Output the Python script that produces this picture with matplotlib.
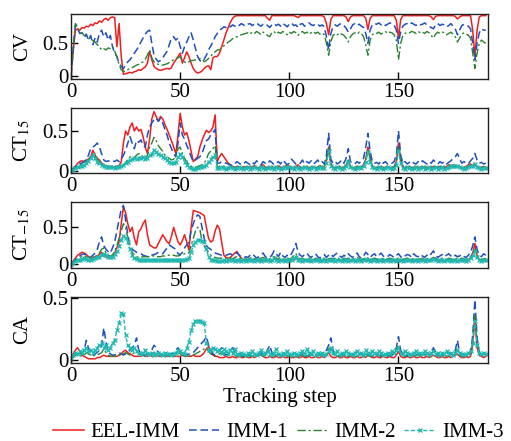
import numpy as np
import matplotlib
matplotlib.use('Agg')
import matplotlib.pyplot as plt

plt.rcParams['font.family'] = ['Liberation Serif', 'DejaVu Serif']
plt.rcParams['mathtext.fontset'] = 'stix'

names = ['EEL-IMM', 'IMM-1', 'IMM-2', 'IMM-3']
panel_labels = ['CV', r'CT$_{15}$', r'CT$_{-15}$', 'CA']
xticks = [0, 50, 100, 150]

# values in percent (0..100)
cv_eel = [0, 40, 70, 72, 70, 74, 73, 76, 75, 79,
          77, 81, 80, 84, 82, 86, 88, 85, 89, 90,
          89, 45, 80, 30, 3, 4, 5, 6, 5, 7,
          8, 10, 9, 12, 14, 20, 38, 25, 15, 12,
          10, 9, 10, 11, 12, 11, 13, 20, 25, 30,
          35, 20, 28, 37, 30, 20, 12, 7, 5, 6,
          8, 12, 15, 16, 10, 28, 30, 30, 35, 45,
          55, 66, 74, 82, 88, 91, 92, 92, 92, 92,
          92, 92, 92, 92, 92, 92, 92, 92, 92, 92,
          88, 85, 92, 92, 92, 92, 92, 92, 92, 92,
          92, 92, 92, 91, 89, 92, 92, 92, 92, 92,
          92, 92, 92, 92, 92, 92, 90, 80, 63, 86,
          92, 92, 92, 92, 92, 92, 90, 83, 90, 92,
          92, 92, 92, 92, 92, 88, 71, 88, 92, 92,
          92, 92, 92, 92, 92, 92, 92, 92, 92, 85,
          58, 86, 92, 92, 92, 92, 92, 92, 92, 92,
          92, 92, 92, 92, 92, 90, 86, 91, 92, 92,
          92, 92, 92, 92, 92, 92, 91, 87, 90, 92,
          92, 92, 92, 92, 70, 30, 70, 90, 92, 92,
          92]
cv_imm1 = [0, 40, 78, 72, 65, 66, 60, 64, 55, 62,
           48, 58, 52, 65, 70, 60, 66, 55, 62, 45,
           35, 30, 20, 15, 12, 17, 22, 25, 30, 35,
           40, 45, 52, 58, 64, 68, 70, 50, 32, 26,
           22, 24, 28, 33, 38, 48, 58, 60, 55, 58,
           45, 35, 45, 52, 60, 66, 55, 42, 30, 24,
           22, 26, 32, 40, 46, 52, 60, 65, 70, 72,
           75, 74, 77, 75, 78, 76, 79, 77, 80, 78,
           76, 79, 80, 77, 79, 81, 78, 76, 79, 80,
           77, 74, 78, 80, 77, 79, 76, 80, 78, 75,
           79, 81, 77, 78, 74, 79, 80, 76, 78, 81,
           78, 77, 80, 79, 76, 78, 75, 60, 40, 65,
           75, 78, 76, 79, 80, 77, 73, 67, 72, 78,
           80, 77, 79, 76, 74, 65, 50, 70, 78, 80,
           79, 81, 78, 80, 77, 79, 81, 80, 78, 70,
           50, 68, 76, 79, 80, 78, 81, 79, 77, 80,
           78, 79, 81, 78, 76, 74, 72, 78, 80, 77,
           79, 78, 75, 77, 80, 76, 72, 63, 70, 77,
           79, 78, 76, 72, 50, 25, 50, 66, 72, 70,
           70]
cv_imm2 = [0, 45, 80, 75, 65, 66, 62, 60, 57, 58,
           54, 52, 48, 45, 40, 42, 40, 43, 42, 45,
           38, 30, 18, 10, 7, 8, 10, 12, 13, 15,
           17, 18, 20, 22, 26, 32, 40, 28, 22, 20,
           18, 17, 17, 18, 19, 21, 23, 25, 26, 28,
           30, 24, 22, 20, 22, 24, 24, 25, 26, 27,
           26, 22, 24, 27, 30, 35, 37, 40, 40, 43,
           46, 49, 52, 54, 57, 59, 60, 62, 63, 64,
           65, 66, 64, 67, 65, 68, 66, 63, 67, 65,
           62, 60, 66, 68, 64, 67, 65, 68, 66, 63,
           67, 65, 68, 66, 62, 66, 68, 65, 67, 64,
           66, 68, 65, 67, 64, 66, 63, 50, 32, 52,
           62, 65, 63, 66, 64, 62, 58, 52, 60, 64,
           66, 64, 67, 65, 60, 48, 32, 55, 63, 66,
           65, 67, 64, 66, 68, 65, 67, 66, 63, 55,
           25, 50, 62, 65, 67, 66, 68, 67, 65, 68,
           66, 67, 65, 68, 66, 62, 58, 64, 67, 65,
           67, 66, 63, 65, 67, 64, 60, 52, 58, 64,
           66, 64, 62, 58, 35, 12, 35, 50, 55, 52,
           50]

ct15_eel = [0, 3, 6, 10, 12, 13, 12, 14, 15, 18,
            26, 20, 16, 14, 10, 8, 6, 6, 5, 6,
            5, 6, 7, 12, 35, 50, 45, 55, 60, 50,
            55, 50, 52, 43, 30, 22, 40, 65, 74, 68,
            62, 68, 65, 58, 52, 45, 38, 30, 22, 45,
            72, 55, 45, 48, 38, 25, 12, 15, 18, 30,
            38, 45, 51, 48, 50, 55, 70, 12, 18, 22,
            18, 14, 10, 8, 6, 5, 6, 5, 4, 6,
            5, 4, 6, 5, 7, 5, 4, 6, 8, 5,
            4, 5, 6, 4, 5, 7, 5, 4, 6, 8,
            6, 4, 5, 6, 8, 5, 4, 5, 6, 4,
            5, 6, 4, 5, 7, 5, 6, 15, 30, 10,
            5, 4, 5, 6, 4, 5, 8, 12, 6, 4,
            5, 6, 4, 5, 8, 15, 30, 18, 6, 5,
            4, 5, 6, 4, 5, 6, 4, 5, 6, 12,
            35, 15, 6, 4, 5, 6, 4, 5, 6, 4,
            5, 4, 6, 5, 4, 5, 6, 4, 5, 6,
            4, 5, 6, 8, 7, 6, 5, 6, 5, 4,
            5, 6, 8, 9, 7, 8, 5, 4, 5, 6,
            5]
ct15_imm1 = [0, 3, 6, 8, 10, 10, 12, 15, 20, 28,
             30, 32, 35, 30, 22, 14, 12, 13, 12, 13,
             12, 14, 12, 15, 20, 26, 35, 43, 35, 28,
             38, 36, 39, 32, 30, 45, 55, 60, 64, 66,
             62, 66, 60, 52, 45, 35, 28, 22, 18, 35,
             60, 45, 40, 32, 26, 18, 12, 14, 16, 18,
             22, 30, 38, 40, 45, 48, 52, 10, 10, 12,
             11, 10, 9, 8, 7, 9, 12, 10, 8, 9,
             12, 10, 8, 11, 9, 13, 10, 8, 12, 10,
             9, 13, 11, 8, 10, 12, 9, 14, 11, 8,
             10, 15, 12, 9, 11, 10, 14, 9, 12, 10,
             13, 9, 11, 14, 10, 12, 9, 20, 47, 15,
             10, 12, 9, 11, 14, 10, 16, 28, 12, 10,
             9, 12, 10, 13, 16, 30, 47, 25, 12, 10,
             11, 9, 13, 10, 12, 9, 11, 10, 12, 20,
             50, 20, 10, 12, 9, 11, 13, 10, 9, 12,
             10, 13, 11, 9, 12, 10, 14, 11, 9, 12,
             10, 12, 9, 11, 13, 16, 18, 22, 15, 10,
             12, 10, 9, 13, 16, 22, 14, 10, 11, 9,
             10]
ct15_imm2 = [0, 2, 5, 7, 8, 9, 10, 12, 14, 18,
             22, 18, 15, 12, 10, 7, 6, 6, 6, 6,
             5, 6, 6, 7, 8, 10, 15, 18, 16, 17,
             20, 22, 20, 18, 15, 20, 30, 35, 42, 38,
             32, 28, 25, 20, 18, 16, 14, 15, 18, 28,
             30, 22, 16, 12, 8, 6, 5, 5, 6, 7,
             8, 10, 15, 22, 25, 28, 32, 5, 6, 7,
             6, 5, 5, 6, 5, 4, 5, 6, 5, 4,
             5, 6, 4, 5, 6, 5, 4, 6, 5, 4,
             5, 6, 5, 4, 6, 5, 4, 5, 6, 5,
             6, 5, 4, 6, 5, 4, 5, 6, 5, 4,
             5, 6, 4, 5, 6, 5, 5, 12, 28, 8,
             5, 4, 6, 5, 4, 5, 8, 14, 6, 5,
             4, 5, 6, 5, 8, 14, 27, 15, 6, 5,
             4, 6, 5, 4, 5, 6, 5, 4, 5, 10,
             30, 12, 5, 4, 6, 5, 4, 5, 6, 4,
             5, 6, 4, 5, 6, 4, 5, 6, 4, 5,
             6, 4, 5, 6, 7, 8, 7, 8, 6, 5,
             4, 5, 6, 7, 8, 10, 6, 5, 4, 5,
             5]
ct15_imm3 = [0, 2, 4, 5, 6, 7, 8, 10, 13, 17,
             20, 16, 12, 10, 8, 6, 5, 5, 5, 5,
             4, 5, 5, 6, 8, 10, 12, 14, 15, 16,
             15, 17, 16, 18, 15, 16, 20, 22, 26, 24,
             22, 20, 18, 16, 14, 12, 10, 10, 12, 18,
             22, 18, 12, 8, 5, 4, 3, 3, 4, 5,
             5, 6, 8, 12, 15, 18, 20, 4, 4, 5,
             4, 3, 4, 5, 4, 3, 4, 5, 4, 3,
             4, 5, 3, 4, 5, 4, 3, 5, 4, 3,
             4, 5, 4, 3, 5, 4, 3, 4, 5, 4,
             5, 4, 3, 5, 4, 3, 4, 5, 4, 3,
             4, 5, 3, 4, 5, 4, 4, 10, 25, 6,
             4, 3, 5, 4, 3, 4, 7, 12, 5, 4,
             3, 4, 5, 4, 7, 12, 24, 12, 5, 4,
             3, 5, 4, 3, 4, 5, 4, 3, 4, 8,
             25, 10, 4, 3, 5, 4, 3, 4, 5, 3,
             4, 5, 3, 4, 5, 3, 4, 5, 3, 4,
             5, 3, 4, 5, 6, 7, 6, 7, 5, 4,
             3, 4, 5, 6, 7, 9, 5, 4, 3, 4,
             4]

ctm15_eel = [0, 4, 8, 12, 14, 16, 15, 13, 10, 8,
             9, 10, 11, 13, 16, 12, 10, 8, 9, 12,
             15, 22, 30, 55, 78, 70, 55, 44, 50, 35,
             26, 44, 48, 55, 60, 40, 26, 24, 22, 22,
             28, 34, 40, 35, 30, 28, 38, 50, 40, 30,
             26, 32, 40, 30, 19, 50, 73, 72, 71, 70,
             68, 66, 50, 35, 30, 32, 45, 53, 48, 30,
             12, 9, 8, 9, 12, 15, 17, 12, 8, 6,
             5, 6, 4, 5, 7, 5, 4, 6, 5, 4,
             6, 5, 4, 7, 5, 6, 4, 5, 6, 5,
             4, 6, 5, 8, 6, 5, 4, 6, 5, 4,
             5, 6, 4, 5, 6, 4, 5, 6, 4, 5,
             6, 4, 5, 6, 5, 4, 6, 5, 4, 6,
             5, 4, 6, 5, 6, 4, 5, 6, 4, 5,
             6, 5, 4, 6, 5, 4, 6, 5, 4, 5,
             6, 4, 5, 6, 4, 5, 6, 4, 5, 6,
             5, 4, 6, 5, 4, 6, 7, 5, 4, 6,
             5, 4, 6, 5, 4, 6, 5, 4, 6, 5,
             4, 5, 6, 8, 15, 28, 12, 6, 5, 4,
             5]
ctm15_imm1 = [0, 3, 6, 9, 11, 13, 14, 12, 10, 9,
              12, 15, 20, 30, 37, 25, 20, 17, 15, 22,
              30, 45, 60, 75, 80, 60, 40, 25, 20, 18,
              16, 15, 14, 12, 11, 10, 11, 12, 13, 14,
              16, 15, 14, 18, 22, 26, 24, 22, 20, 14,
              13, 16, 22, 26, 30, 45, 55, 63, 67, 65,
              50, 35, 25, 22, 20, 18, 15, 14, 13, 12,
              11, 12, 13, 14, 12, 13, 16, 12, 10, 8,
              10, 9, 12, 14, 11, 8, 10, 13, 15, 10,
              8, 9, 12, 18, 14, 10, 16, 11, 9, 12,
              10, 14, 20, 28, 16, 12, 10, 13, 15, 11,
              9, 12, 14, 10, 8, 11, 13, 9, 12, 14,
              10, 13, 15, 11, 9, 12, 10, 14, 11, 9,
              12, 15, 10, 8, 11, 16, 13, 9, 12, 14,
              10, 12, 15, 11, 9, 10, 13, 11, 9, 12,
              14, 10, 8, 11, 13, 12, 9, 14, 11, 10,
              13, 11, 9, 12, 10, 14, 18, 12, 9, 11,
              13, 10, 12, 14, 11, 9, 12, 10, 11, 13,
              10, 9, 12, 16, 25, 37, 20, 12, 10, 14,
              12]
ctm15_imm2 = [0, 2, 5, 7, 9, 10, 11, 10, 9, 8,
              9, 10, 12, 15, 20, 22, 15, 12, 11, 12,
              18, 25, 35, 45, 55, 50, 35, 22, 16, 12,
              10, 9, 9, 10, 10, 10, 10, 11, 11, 10,
              10, 10, 11, 11, 12, 12, 12, 12, 11, 11,
              12, 13, 14, 15, 15, 25, 35, 45, 50, 48,
              30, 25, 20, 15, 12, 10, 9, 8, 8, 8,
              7, 8, 9, 8, 7, 9, 10, 8, 7, 6,
              7, 6, 8, 9, 7, 6, 7, 8, 9, 7,
              6, 7, 8, 10, 8, 7, 9, 7, 6, 8,
              7, 8, 12, 14, 9, 7, 8, 6, 7, 8,
              7, 6, 8, 7, 6, 7, 8, 6, 7, 8,
              7, 8, 9, 7, 6, 8, 7, 8, 7, 6,
              8, 9, 7, 6, 7, 9, 8, 6, 7, 8,
              7, 6, 8, 7, 6, 7, 8, 7, 6, 7,
              8, 7, 6, 7, 8, 7, 6, 8, 7, 6,
              7, 8, 6, 7, 8, 7, 9, 8, 6, 7,
              8, 7, 6, 8, 7, 6, 7, 8, 7, 8,
              7, 6, 8, 10, 14, 20, 10, 7, 6, 7,
              8]
ctm15_imm3 = [0, 2, 4, 5, 6, 7, 8, 7, 6, 6,
              7, 8, 9, 10, 12, 14, 12, 10, 9, 10,
              13, 18, 24, 33, 38, 36, 30, 20, 12, 8,
              7, 6, 6, 6, 6, 5, 5, 5, 5, 5,
              5, 5, 5, 5, 5, 5, 5, 5, 5, 5,
              5, 6, 6, 7, 8, 16, 26, 30, 33, 33,
              32, 30, 20, 10, 6, 5, 5, 4, 4, 4,
              5, 4, 5, 6, 5, 4, 6, 5, 4, 5,
              4, 5, 6, 5, 4, 5, 6, 4, 5, 6,
              5, 4, 6, 8, 6, 4, 5, 6, 4, 5,
              5, 6, 8, 10, 6, 5, 4, 5, 6, 5,
              4, 5, 6, 5, 4, 5, 6, 4, 5, 6,
              5, 4, 6, 5, 4, 6, 5, 4, 6, 5,
              4, 6, 5, 4, 5, 7, 5, 4, 6, 5,
              4, 5, 6, 4, 5, 6, 4, 5, 6, 4,
              5, 6, 4, 5, 6, 5, 4, 6, 5, 4,
              6, 5, 4, 5, 6, 5, 7, 5, 4, 6,
              5, 4, 6, 5, 4, 5, 6, 4, 5, 6,
              5, 4, 6, 8, 12, 18, 9, 5, 4, 6,
              5]

ca_eel = [2, 5, 8, 10, 7, 4, 3, 2, 1, 1,
          1, 1, 2, 2, 3, 4, 3, 3, 3, 3,
          3, 3, 4, 5, 7, 8, 6, 5, 4, 3,
          3, 3, 3, 4, 3, 3, 4, 3, 3, 4,
          3, 3, 4, 3, 3, 3, 4, 3, 3, 3,
          3, 4, 3, 3, 3, 3, 4, 3, 3, 3,
          4, 6, 9, 11, 8, 4, 3, 3, 2, 2,
          2, 3, 2, 2, 3, 2, 2, 3, 2, 2,
          3, 2, 2, 3, 2, 3, 4, 5, 3, 2,
          2, 3, 2, 2, 3, 2, 2, 3, 2, 2,
          3, 2, 2, 3, 2, 2, 3, 2, 2, 3,
          2, 2, 3, 2, 2, 3, 2, 4, 6, 3,
          2, 2, 3, 2, 2, 3, 2, 2, 3, 2,
          2, 3, 2, 2, 3, 2, 4, 3, 2, 2,
          3, 2, 2, 3, 2, 2, 3, 2, 2, 4,
          7, 3, 2, 2, 3, 2, 2, 3, 2, 2,
          3, 2, 2, 3, 2, 3, 4, 3, 2, 2,
          3, 2, 2, 3, 2, 3, 4, 5, 3, 2,
          2, 3, 2, 3, 12, 35, 10, 4, 3, 2,
          3]
ca_imm1 = [1, 3, 5, 4, 6, 5, 8, 16, 10, 5,
           4, 5, 6, 8, 12, 26, 15, 6, 5, 4,
           4, 5, 6, 5, 4, 5, 6, 8, 10, 12,
           18, 8, 5, 4, 4, 5, 6, 8, 12, 10,
           6, 5, 4, 4, 4, 4, 5, 6, 8, 10,
           6, 4, 4, 4, 5, 5, 6, 8, 10, 12,
           14, 16, 19, 12, 8, 5, 4, 5, 8, 10,
           6, 4, 5, 8, 10, 6, 4, 5, 4, 3,
           4, 5, 4, 3, 4, 5, 4, 6, 4, 5,
           8, 12, 6, 4, 5, 4, 3, 4, 5, 4,
           3, 4, 5, 4, 3, 4, 5, 4, 3, 4,
           5, 4, 3, 4, 5, 4, 6, 8, 12, 18,
           8, 5, 4, 3, 4, 5, 4, 3, 4, 5,
           4, 3, 4, 5, 4, 6, 5, 4, 3, 4,
           5, 4, 3, 4, 5, 4, 3, 4, 6, 10,
           19, 8, 4, 3, 4, 5, 4, 3, 4, 5,
           4, 3, 4, 5, 4, 6, 10, 6, 4, 3,
           4, 5, 4, 6, 5, 4, 8, 16, 6, 4,
           3, 4, 5, 6, 20, 49, 18, 6, 4, 5,
           4]
ca_imm2 = [1, 2, 4, 5, 4, 3, 4, 6, 5, 4,
           3, 4, 4, 5, 6, 9, 6, 4, 3, 3,
           3, 4, 4, 4, 5, 6, 5, 4, 5, 6,
           8, 5, 4, 3, 3, 4, 4, 5, 6, 5,
           4, 3, 3, 3, 4, 4, 4, 5, 5, 6,
           5, 4, 3, 3, 3, 4, 4, 5, 6, 7,
           8, 9, 10, 7, 5, 4, 3, 4, 5, 6,
           4, 3, 4, 5, 6, 4, 3, 4, 3, 3,
           3, 4, 3, 3, 4, 4, 3, 4, 3, 4,
           6, 8, 4, 3, 4, 3, 3, 4, 4, 3,
           3, 4, 4, 3, 3, 4, 4, 3, 3, 4,
           4, 3, 3, 4, 4, 3, 4, 6, 9, 10,
           5, 4, 3, 3, 4, 4, 3, 3, 4, 4,
           3, 3, 4, 4, 3, 5, 4, 3, 3, 4,
           4, 3, 3, 4, 4, 3, 3, 4, 5, 8,
           12, 6, 4, 3, 3, 4, 3, 3, 4, 4,
           3, 3, 4, 4, 3, 5, 7, 5, 3, 3,
           4, 4, 3, 5, 4, 3, 6, 10, 5, 3,
           3, 3, 4, 5, 15, 36, 14, 5, 4, 4,
           4]
ca_imm3 = [2, 4, 6, 5, 7, 6, 8, 10, 7, 8,
           6, 8, 10, 12, 14, 10, 12, 8, 10, 14,
           16, 24, 30, 38, 37, 20, 12, 10, 8, 10,
           7, 6, 5, 6, 8, 5, 5, 6, 4, 5,
           6, 5, 4, 6, 5, 5, 4, 5, 6, 8,
           7, 6, 5, 10, 15, 24, 29, 32, 32, 32,
           31, 30, 14, 8, 8, 10, 9, 7, 8, 6,
           9, 7, 5, 8, 6, 9, 5, 4, 6, 5,
           4, 6, 5, 7, 5, 4, 6, 8, 5, 6,
           7, 5, 4, 6, 9, 5, 4, 6, 5, 7,
           5, 4, 6, 5, 4, 6, 7, 5, 9, 6,
           5, 7, 4, 6, 5, 6, 4, 5, 7, 10,
           6, 5, 7, 4, 6, 5, 7, 6, 5, 4,
           6, 7, 5, 6, 4, 8, 6, 5, 7, 6,
           5, 7, 6, 4, 5, 6, 5, 7, 6, 8,
           10, 6, 5, 7, 6, 4, 5, 6, 7, 5,
           6, 5, 7, 6, 4, 6, 7, 5, 6, 4,
           6, 5, 7, 5, 6, 4, 6, 8, 6, 5,
           4, 5, 6, 7, 14, 32, 12, 6, 5, 6,
           5]

panels = [
    [cv_eel, cv_imm1, cv_imm2, None],
    [ct15_eel, ct15_imm1, ct15_imm2, ct15_imm3],
    [ctm15_eel, ctm15_imm1, ctm15_imm2, ctm15_imm3],
    [ca_eel, ca_imm1, ca_imm2, ca_imm3],
]
ylims = [(-0.04, 0.95), (-0.02, 0.79), (-0.05, 0.84), (-0.02, 0.51)]
bottoms = [0.821, 0.608, 0.393, 0.178]

colors = ['#f01e1e', '#1f4fbf', '#2a8030', '#1fb8b0']
styles = [
    dict(linestyle='-', linewidth=1.1),
    dict(linestyle=(0, (5, 2.5)), linewidth=1.1),
    dict(linestyle=(0, (6, 2, 1.5, 2)), linewidth=1.0),
    dict(linestyle=(0, (3, 1.5)), linewidth=1.0, marker='x', markersize=2.2, markeredgewidth=0.9),
]

fig = plt.figure(figsize=(5.11, 4.41), dpi=100)
handles = []
for i, (series, yl, b) in enumerate(zip(panels, ylims, bottoms)):
    ax = fig.add_axes([0.139, b, 0.816, 0.148])
    for j, vals in enumerate(series):
        if vals is None:
            continue
        v = np.array(vals) / 100.0
        x = np.arange(len(v))
        ln, = ax.plot(x, v, color=colors[j], **styles[j])
        if i == 3:
            handles.append(ln)
    ax.set_xlim(0, 191)
    ax.set_ylim(*yl)
    ax.set_xticks(xticks)
    ax.set_xticklabels([str(t) for t in xticks])
    ax.set_yticks([0, 0.5])
    ax.set_yticklabels(['0', '0.5'])
    ax.tick_params(direction='in', length=5, width=1, labelsize=15, top=False, right=False)
    ax.tick_params(axis='y', pad=2)
    ax.tick_params(axis='x', pad=3)
    for s in ax.spines.values():
        s.set_linewidth(1.0)
        s.set_color('#222222')
    ax.set_ylabel(panel_labels[i], fontsize=15)
    ax.yaxis.set_label_coords(-0.093, 0.5)
    if i == 3:
        ax.set_xlabel('Tracking step', fontsize=15, labelpad=2)

fig.legend(handles, names, loc='center', bbox_to_anchor=(0.545, 0.02), ncol=4,
           frameon=False, fontsize=15, handlelength=1.45, handletextpad=0.35,
           columnspacing=0.42, borderpad=0, borderaxespad=0, numpoints=1)

fig.savefig('out.png', dpi=100)
